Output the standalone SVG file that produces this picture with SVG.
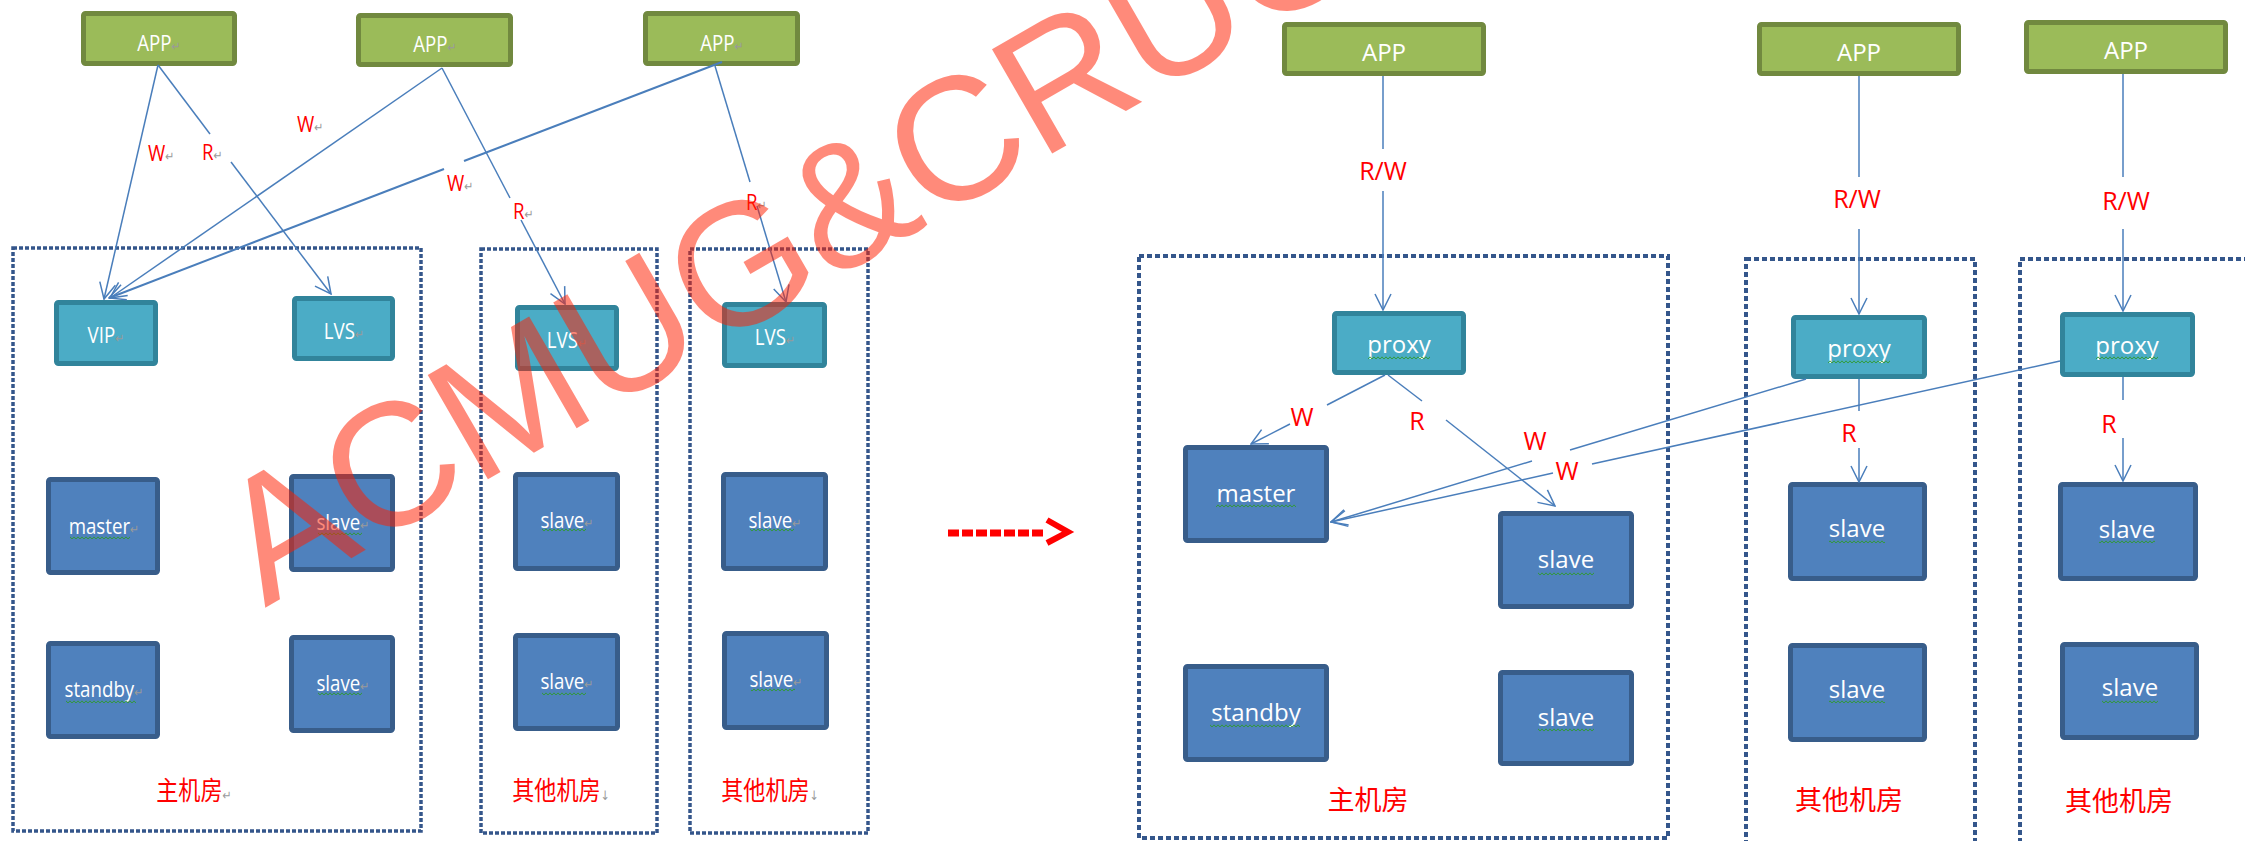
<svg xmlns="http://www.w3.org/2000/svg" width="2245" height="841" viewBox="0 0 2245 841">
<style>
.app{fill:#9BBB59;stroke:#71893F;stroke-width:5}
.teal{fill:#4BACC6;stroke:#31849B;stroke-width:5}
.blue{fill:#4F81BD;stroke:#385D8A;stroke-width:5}
.t{font-family:"Open Sans","Liberation Sans",sans-serif;fill:#FFFFFF;text-anchor:middle}
.tl{font-size:22px}
.tr{font-size:24px}
.red{font-family:"Open Sans","Liberation Sans",sans-serif;fill:#FF0000}
.cn{font-family:"Noto Sans CJK SC","Noto Sans CJK TC",sans-serif;fill:#FF0000;text-anchor:middle}
.pm{font-family:"DejaVu Sans",sans-serif;fill:#9A9A9A;font-size:13px}
.zl{fill:none;stroke:#34568B;stroke-width:3.5;stroke-dasharray:4 2}
.zr{fill:none;stroke:#34568B;stroke-width:4;stroke-dasharray:5 3}
.c line,.c path{stroke:#4A7EBB;stroke-width:1.5;fill:none}
.sq{fill:url(#sq)}
</style>
<defs>
<marker id="ar" markerUnits="userSpaceOnUse" markerWidth="18" markerHeight="18" viewBox="0 0 18 18" refX="17" refY="9" orient="auto">
<path d="M1,1 L17,9 L1,17" fill="none" stroke="#4A7EBB" stroke-width="1.5"/>
</marker>
<pattern id="sq" patternUnits="userSpaceOnUse" width="4" height="4">
<path d="M0,3.2 L2,0.8 L4,3.2" fill="none" stroke="#2E9A2E" stroke-width="0.9"/>
</pattern>
</defs>
<rect width="2245" height="841" fill="#FFFFFF"/>

<!-- zones left -->
<g id="zones-left">
<rect class="zl" x="13" y="248" width="408" height="583"/>
<rect class="zl" x="481" y="249" width="176" height="584"/>
<rect class="zl" x="690" y="249" width="178" height="584"/>
</g>
<!-- zones right -->
<g id="zones-right">
<rect class="zr" x="1139" y="256" width="529" height="582"/>
<rect class="zr" x="1746" y="259" width="229" height="620"/>
<rect class="zr" x="2020" y="259" width="260" height="620"/>
</g>

<!-- left nodes -->
<g id="app1"><rect class="app" x="83.5" y="13.5" width="151" height="50" rx="2"/><text class="t tl" transform="translate(159,51) scale(0.85,1)">APP<tspan class="pm">↵</tspan></text></g>
<g id="app2"><rect class="app" x="358.5" y="15.5" width="152" height="49" rx="2"/><text class="t tl" transform="translate(435,52) scale(0.85,1)">APP<tspan class="pm">↵</tspan></text></g>
<g id="app3"><rect class="app" x="645.5" y="13.5" width="152" height="50" rx="2"/><text class="t tl" transform="translate(722,51) scale(0.85,1)">APP<tspan class="pm">↵</tspan></text></g>
<g id="vip"><rect class="teal" x="56.5" y="302.5" width="99" height="61" rx="2"/><text class="t tl" transform="translate(106,343) scale(0.85,1)">VIP<tspan class="pm">↵</tspan></text></g>
<g id="lvs1"><rect class="teal" x="294.5" y="298.5" width="98" height="60" rx="2"/><text class="t tl" transform="translate(344,339) scale(0.85,1)">LVS<tspan class="pm">↵</tspan></text></g>
<g id="lvs2"><rect class="teal" x="517.5" y="307.5" width="99" height="61" rx="2"/><text class="t tl" transform="translate(567,348) scale(0.85,1)">LVS<tspan class="pm">↵</tspan></text></g>
<g id="lvs3"><rect class="teal" x="724.5" y="304.5" width="100" height="61" rx="2"/><text class="t tl" transform="translate(775,345) scale(0.85,1)">LVS<tspan class="pm">↵</tspan></text></g>
<g id="master-l"><rect class="blue" x="48.5" y="479.5" width="109" height="93" rx="2"/><text class="t tl" transform="translate(104,534) scale(0.85,1)">master<tspan class="pm">↵</tspan></text><rect class="sq" x="70" y="536" width="60" height="4"/></g>
<g id="slave-l1"><rect class="blue" x="291.5" y="476.5" width="101" height="93" rx="2"/><text class="t tl" transform="translate(343,530) scale(0.85,1)">slave<tspan class="pm">↵</tspan></text><rect class="sq" x="318" y="532" width="44" height="4"/></g>
<g id="standby-l"><rect class="blue" x="48.5" y="643.5" width="109" height="93" rx="2"/><text class="t tl" transform="translate(104,697) scale(0.85,1)">standby<tspan class="pm">↵</tspan></text><rect class="sq" x="66" y="700" width="70" height="4"/></g>
<g id="slave-l2"><rect class="blue" x="291.5" y="637.5" width="101" height="93" rx="2"/><text class="t tl" transform="translate(343,691) scale(0.85,1)">slave<tspan class="pm">↵</tspan></text><rect class="sq" x="318" y="692" width="44" height="4"/></g>
<g id="slave-c2a"><rect class="blue" x="515.5" y="474.5" width="102" height="94" rx="2"/><text class="t tl" transform="translate(567,528) scale(0.85,1)">slave<tspan class="pm">↵</tspan></text><rect class="sq" x="542" y="528" width="44" height="4"/></g>
<g id="slave-c2b"><rect class="blue" x="515.5" y="635.5" width="102" height="93" rx="2"/><text class="t tl" transform="translate(567,689) scale(0.85,1)">slave<tspan class="pm">↵</tspan></text><rect class="sq" x="542" y="692" width="44" height="4"/></g>
<g id="slave-c3a"><rect class="blue" x="723.5" y="474.5" width="102" height="94" rx="2"/><text class="t tl" transform="translate(775,528) scale(0.85,1)">slave<tspan class="pm">↵</tspan></text><rect class="sq" x="750" y="528" width="44" height="4"/></g>
<g id="slave-c3b"><rect class="blue" x="724.5" y="633.5" width="102" height="94" rx="2"/><text class="t tl" transform="translate(776,687) scale(0.85,1)">slave<tspan class="pm">↵</tspan></text><rect class="sq" x="751" y="688" width="44" height="4"/></g>

<!-- left zone labels -->
<g id="zone-labels-left">
<text class="cn" font-size="26" transform="translate(194,800) scale(0.85,1)">主机房<tspan class="pm">↵</tspan></text>
<text class="cn" font-size="26" transform="translate(561,800) scale(0.85,1)">其他机房<tspan class="pm" font-size="9">↓</tspan></text>
<text class="cn" font-size="26" transform="translate(770,800) scale(0.85,1)">其他机房<tspan class="pm" font-size="9">↓</tspan></text>
</g>

<!-- right nodes -->
<g id="app4"><rect class="app" x="1284.5" y="24.5" width="199" height="49" rx="2"/><text class="t tr" x="1384" y="61">APP</text></g>
<g id="app5"><rect class="app" x="1759.5" y="24.5" width="199" height="49" rx="2"/><text class="t tr" x="1859" y="61">APP</text></g>
<g id="app6"><rect class="app" x="2026.5" y="22.5" width="199" height="49" rx="2"/><text class="t tr" x="2126" y="59">APP</text></g>
<g id="proxy1"><rect class="teal" x="1334.5" y="313.5" width="129" height="59" rx="2"/><text class="t tr" x="1399" y="353">proxy</text><rect class="sq" x="1368" y="356" width="62" height="4"/></g>
<g id="proxy2"><rect class="teal" x="1793.5" y="317.5" width="131" height="59" rx="2"/><text class="t tr" x="1859" y="357">proxy</text><rect class="sq" x="1828" y="360" width="62" height="4"/></g>
<g id="proxy3"><rect class="teal" x="2062.5" y="314.5" width="130" height="60" rx="2"/><text class="t tr" x="2127" y="354">proxy</text><rect class="sq" x="2096" y="356" width="62" height="4"/></g>
<g id="master-r"><rect class="blue" x="1185.5" y="447.5" width="141" height="93" rx="2"/><text class="t tr" x="1256" y="502">master</text><rect class="sq" x="1216" y="504" width="80" height="4"/></g>
<g id="standby-r"><rect class="blue" x="1185.5" y="666.5" width="141" height="93" rx="2"/><text class="t tr" x="1256" y="721">standby</text><rect class="sq" x="1210" y="724" width="90" height="4"/></g>
<g id="slave-r1"><rect class="blue" x="1500.5" y="513.5" width="131" height="93" rx="2"/><text class="t tr" x="1566" y="568">slave</text><rect class="sq" x="1538" y="572" width="56" height="4"/></g>
<g id="slave-r2"><rect class="blue" x="1500.5" y="672.5" width="131" height="91" rx="2"/><text class="t tr" x="1566" y="726">slave</text><rect class="sq" x="1538" y="728" width="56" height="4"/></g>
<g id="slave-2a"><rect class="blue" x="1790.5" y="484.5" width="134" height="94" rx="2"/><text class="t tr" x="1857" y="537">slave</text><rect class="sq" x="1829" y="540" width="56" height="4"/></g>
<g id="slave-2b"><rect class="blue" x="1790.5" y="645.5" width="134" height="94" rx="2"/><text class="t tr" x="1857" y="698">slave</text><rect class="sq" x="1829" y="700" width="56" height="4"/></g>
<g id="slave-3a"><rect class="blue" x="2060.5" y="484.5" width="135" height="94" rx="2"/><text class="t tr" x="2127" y="538">slave</text><rect class="sq" x="2099" y="540" width="56" height="4"/></g>
<g id="slave-3b"><rect class="blue" x="2062.5" y="644.5" width="134" height="93" rx="2"/><text class="t tr" x="2130" y="696">slave</text><rect class="sq" x="2102" y="700" width="56" height="4"/></g>

<g id="zone-labels-right">
<text class="cn" font-size="27" x="1368" y="810">主机房</text>
<text class="cn" font-size="27" x="1849" y="810">其他机房</text>
<text class="cn" font-size="27" x="2119" y="811">其他机房</text>
</g>

<!-- connectors -->
<g id="connectors" class="c">
<line x1="158" y1="65" x2="104" y2="299" marker-end="url(#ar)"/>
<line x1="158" y1="65" x2="210" y2="134"/>
<line x1="231" y1="162" x2="331" y2="294" marker-end="url(#ar)"/>
<line x1="442" y1="68" x2="110" y2="298" marker-end="url(#ar)"/>
<line x1="442" y1="68" x2="510" y2="198"/>
<line x1="521" y1="220" x2="565" y2="304" marker-end="url(#ar)"/>
<line x1="722" y1="62" x2="464" y2="161" style="stroke-width:2"/>
<line x1="444" y1="169" x2="109" y2="298" style="stroke-width:2" marker-end="url(#ar)"/>
<line x1="715" y1="66" x2="750" y2="182"/>
<line x1="757" y1="206" x2="786" y2="302" marker-end="url(#ar)"/>

<line x1="1383" y1="76" x2="1383" y2="149"/>
<line x1="1383" y1="191" x2="1383" y2="310" marker-end="url(#ar)"/>
<line x1="1859" y1="76" x2="1859" y2="177"/>
<line x1="1859" y1="229" x2="1859" y2="314" marker-end="url(#ar)"/>
<line x1="2123" y1="74" x2="2123" y2="177"/>
<line x1="2123" y1="229" x2="2123" y2="311" marker-end="url(#ar)"/>

<line x1="1385" y1="375" x2="1327" y2="405"/>
<line x1="1290" y1="424" x2="1251" y2="444" marker-end="url(#ar)"/>
<line x1="1388" y1="375" x2="1422" y2="401"/>
<line x1="1446" y1="420" x2="1555" y2="506" marker-end="url(#ar)"/>
<line x1="1859" y1="379" x2="1859" y2="411"/>
<line x1="1859" y1="448" x2="1859" y2="482" marker-end="url(#ar)"/>
<line x1="2123" y1="377" x2="2123" y2="400"/>
<line x1="2123" y1="438" x2="2123" y2="481" marker-end="url(#ar)"/>

<line x1="1806" y1="379" x2="1570" y2="450"/>
<line x1="1532" y1="461" x2="1331" y2="522" marker-end="url(#ar)"/>
<line x1="2060" y1="361" x2="1592" y2="464"/>
<line x1="1553" y1="473" x2="1331" y2="522" marker-end="url(#ar)"/>
</g>

<!-- connector labels -->
<g id="conn-labels">
<text class="red" font-size="22" transform="translate(148,161) scale(0.85,1)">W<tspan class="pm">↵</tspan></text>
<text class="red" font-size="22" transform="translate(202,160) scale(0.85,1)">R<tspan class="pm">↵</tspan></text>
<text class="red" font-size="22" transform="translate(297,132) scale(0.85,1)">W<tspan class="pm">↵</tspan></text>
<text class="red" font-size="22" transform="translate(447,191) scale(0.85,1)">W<tspan class="pm">↵</tspan></text>
<text class="red" font-size="22" transform="translate(513,219) scale(0.85,1)">R<tspan class="pm">↵</tspan></text>
<text class="red" font-size="22" transform="translate(746,210) scale(0.85,1)">R<tspan class="pm">↵</tspan></text>
<text class="red" font-size="25" x="1383" y="180" text-anchor="middle">R/W</text>
<text class="red" font-size="25" x="1857" y="208" text-anchor="middle">R/W</text>
<text class="red" font-size="25" x="2126" y="210" text-anchor="middle">R/W</text>
<text class="red" font-size="25" x="1302" y="426" text-anchor="middle">W</text>
<text class="red" font-size="25" x="1417" y="430" text-anchor="middle">R</text>
<text class="red" font-size="25" x="1535" y="450" text-anchor="middle">W</text>
<text class="red" font-size="25" x="1567" y="480" text-anchor="middle">W</text>
<text class="red" font-size="25" x="1849" y="442" text-anchor="middle">R</text>
<text class="red" font-size="25" x="2109" y="433" text-anchor="middle">R</text>
</g>

<!-- transition arrow -->
<g id="transition-arrow">
<line x1="948" y1="533" x2="1045" y2="533" stroke="#FF0000" stroke-width="7" stroke-dasharray="11 3"/>
<polyline points="1047,520 1068,532 1047,543" fill="none" stroke="#FF0000" stroke-width="6"/>
</g>

<!-- watermark -->
<text id="watermark" x="265" y="608" transform="rotate(-30 265 608)" font-family="Liberation Sans, Arial, sans-serif" font-size="175" fill="#FF1E00" fill-opacity="0.52">ACMUG&amp;CRUG</text>
</svg>
